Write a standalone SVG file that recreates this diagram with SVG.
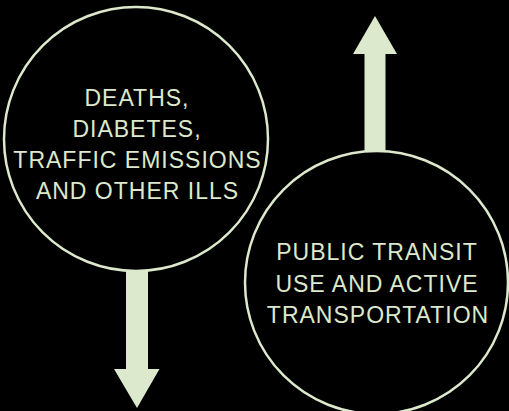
<svg xmlns="http://www.w3.org/2000/svg" width="509" height="411" viewBox="0 0 509 411">
<style>
.ring{fill:#000;stroke:#dde9cc;stroke-width:2.5}
.arrow{fill:#dde9cc}
.lbl{fill:#dde9cc;font-family:"Liberation Sans",Arial,Helvetica,sans-serif;font-size:23px;letter-spacing:1px;text-anchor:middle}
</style>
<rect x="0" y="0" width="509" height="411" fill="#000"/>
<g id="connectors">
<polygon class="arrow" points="364.5,152 364.5,54 353,54 375,16 397,54 385.5,54 385.5,152"/>
<polygon class="arrow" points="126,270 126,369 114,369 137,408 159.5,369 148,369 148,270"/>
</g>
<g id="node-ills">
<circle class="ring" cx="136" cy="139" r="132"/>
<text class="lbl" x="137" y="105.5">DEATHS,</text>
<text class="lbl" x="137" y="136.7">DIABETES,</text>
<text class="lbl" x="137.5" y="168">TRAFFIC EMISSIONS</text>
<text class="lbl" x="137.5" y="199">AND OTHER ILLS</text>
</g>
<g id="node-transit">
<circle class="ring" cx="376.5" cy="282.5" r="131.5"/>
<text class="lbl" x="377" y="260">PUBLIC TRANSIT</text>
<text class="lbl" x="377" y="291.5">USE AND ACTIVE</text>
<text class="lbl" x="378" y="322.5">TRANSPORTATION</text>
</g>
</svg>
